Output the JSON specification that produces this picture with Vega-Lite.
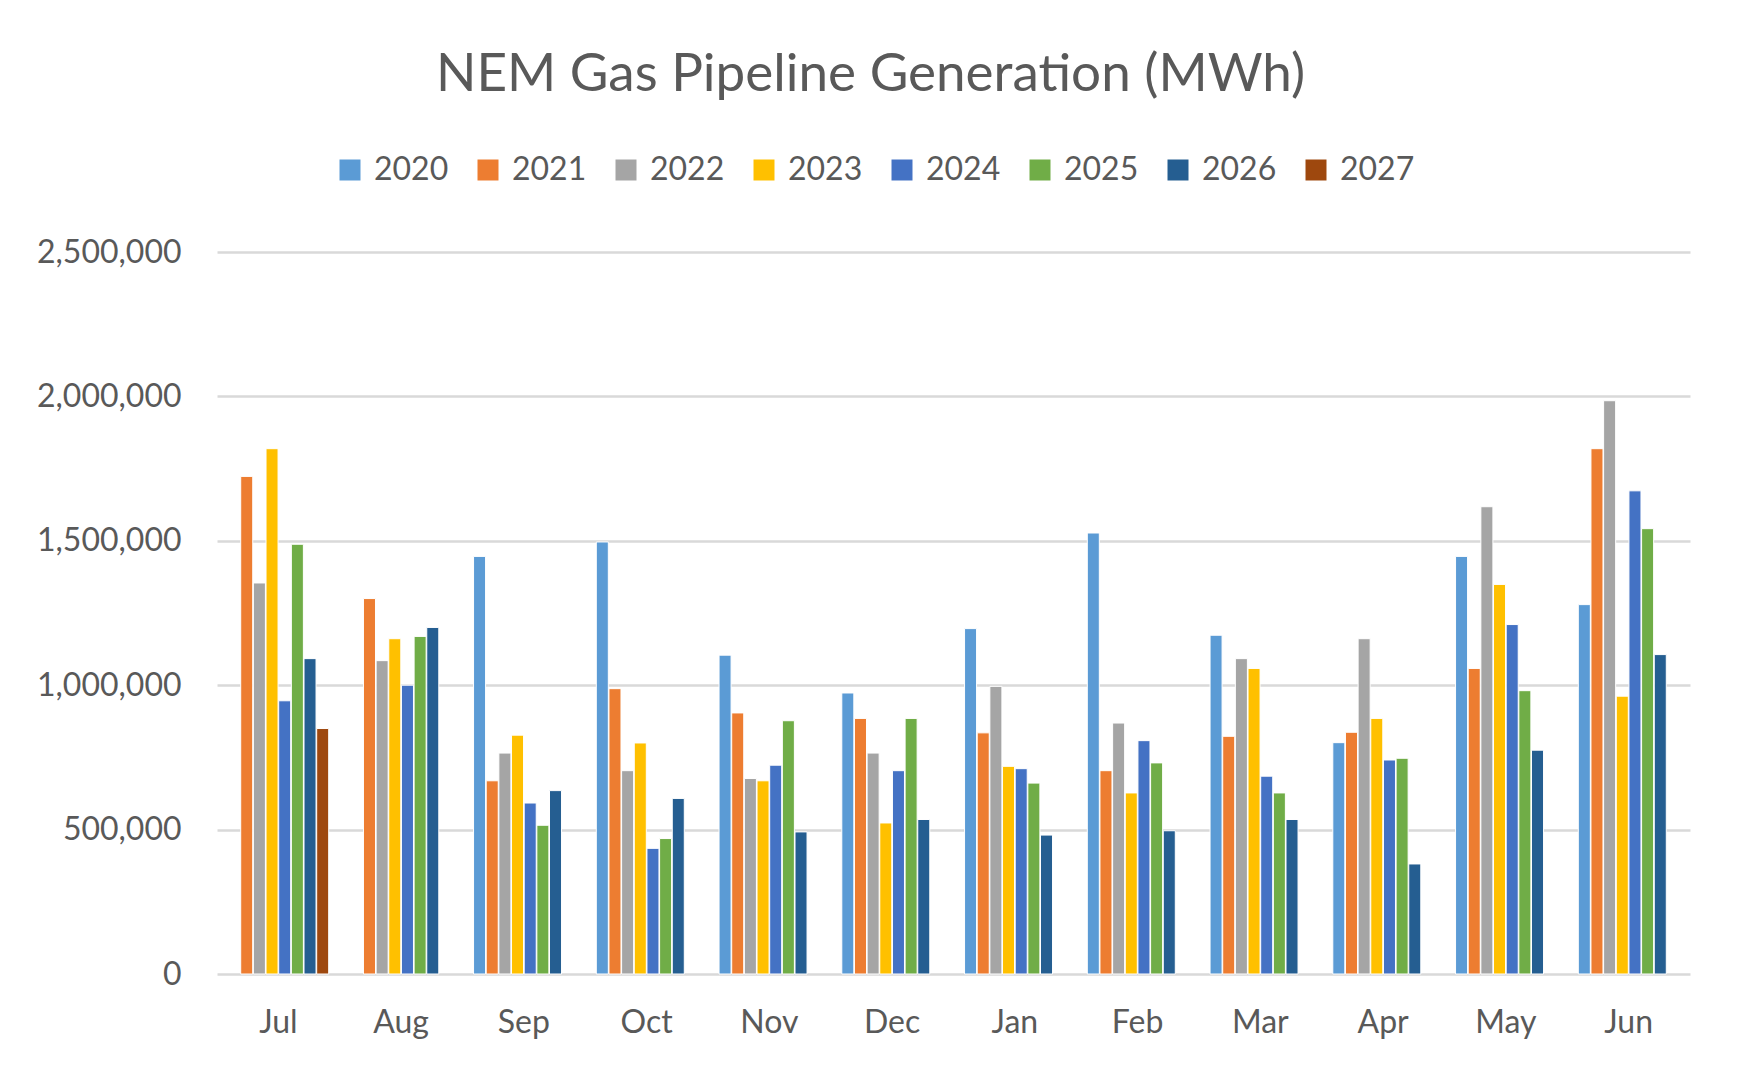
{
  "$schema": "https://vega.github.io/schema/vega-lite/v6.json",
  "autosize": {"type": "none"},
  "padding": {"left": 217, "top": 252, "right": 49, "bottom": 99},
  "width": 1473,
  "height": 722,
  "background": "white",
  "config": {
    "font": "Lato",
    "view": {"stroke": null},
    "axis": {
      "labelFont": "Lato",
      "labelFontSize": 32,
      "labelColor": "#595959",
      "domain": false,
      "ticks": false,
      "title": null
    },
    "legend": {"labelFont": "Lato"}
  },
  "title": {
    "text": "NEM Gas Pipeline Generation (MWh)",
    "font": "Lato",
    "fontSize": 53,
    "fontWeight": "normal",
    "color": "#595959",
    "anchor": "middle",
    "dx": -83,
    "offset": 52
  },
  "data": {
    "values": [
      {"month": "Jul", "year": "2021", "value": 1723000},
      {"month": "Jul", "year": "2022", "value": 1354000},
      {"month": "Jul", "year": "2023", "value": 1819000},
      {"month": "Jul", "year": "2024", "value": 946000},
      {"month": "Jul", "year": "2025", "value": 1488000},
      {"month": "Jul", "year": "2026", "value": 1092000},
      {"month": "Jul", "year": "2027", "value": 850000},
      {"month": "Aug", "year": "2021", "value": 1300000},
      {"month": "Aug", "year": "2022", "value": 1085000},
      {"month": "Aug", "year": "2023", "value": 1161000},
      {"month": "Aug", "year": "2024", "value": 1000000},
      {"month": "Aug", "year": "2025", "value": 1169000},
      {"month": "Aug", "year": "2026", "value": 1200000},
      {"month": "Sep", "year": "2020", "value": 1446000},
      {"month": "Sep", "year": "2021", "value": 669000},
      {"month": "Sep", "year": "2022", "value": 765000},
      {"month": "Sep", "year": "2023", "value": 827000},
      {"month": "Sep", "year": "2024", "value": 592000},
      {"month": "Sep", "year": "2025", "value": 515000},
      {"month": "Sep", "year": "2026", "value": 635000},
      {"month": "Oct", "year": "2020", "value": 1496000},
      {"month": "Oct", "year": "2021", "value": 988000},
      {"month": "Oct", "year": "2022", "value": 704000},
      {"month": "Oct", "year": "2023", "value": 800000},
      {"month": "Oct", "year": "2024", "value": 435000},
      {"month": "Oct", "year": "2025", "value": 469000},
      {"month": "Oct", "year": "2026", "value": 608000},
      {"month": "Nov", "year": "2020", "value": 1104000},
      {"month": "Nov", "year": "2021", "value": 904000},
      {"month": "Nov", "year": "2022", "value": 677000},
      {"month": "Nov", "year": "2023", "value": 669000},
      {"month": "Nov", "year": "2024", "value": 723000},
      {"month": "Nov", "year": "2025", "value": 877000},
      {"month": "Nov", "year": "2026", "value": 492000},
      {"month": "Dec", "year": "2020", "value": 973000},
      {"month": "Dec", "year": "2021", "value": 885000},
      {"month": "Dec", "year": "2022", "value": 765000},
      {"month": "Dec", "year": "2023", "value": 523000},
      {"month": "Dec", "year": "2024", "value": 704000},
      {"month": "Dec", "year": "2025", "value": 885000},
      {"month": "Dec", "year": "2026", "value": 535000},
      {"month": "Jan", "year": "2020", "value": 1196000},
      {"month": "Jan", "year": "2021", "value": 835000},
      {"month": "Jan", "year": "2022", "value": 996000},
      {"month": "Jan", "year": "2023", "value": 719000},
      {"month": "Jan", "year": "2024", "value": 711000},
      {"month": "Jan", "year": "2025", "value": 661000},
      {"month": "Jan", "year": "2026", "value": 481000},
      {"month": "Feb", "year": "2020", "value": 1527000},
      {"month": "Feb", "year": "2021", "value": 704000},
      {"month": "Feb", "year": "2022", "value": 869000},
      {"month": "Feb", "year": "2023", "value": 627000},
      {"month": "Feb", "year": "2024", "value": 808000},
      {"month": "Feb", "year": "2025", "value": 731000},
      {"month": "Feb", "year": "2026", "value": 496000},
      {"month": "Mar", "year": "2020", "value": 1173000},
      {"month": "Mar", "year": "2021", "value": 823000},
      {"month": "Mar", "year": "2022", "value": 1092000},
      {"month": "Mar", "year": "2023", "value": 1058000},
      {"month": "Mar", "year": "2024", "value": 685000},
      {"month": "Mar", "year": "2025", "value": 627000},
      {"month": "Mar", "year": "2026", "value": 535000},
      {"month": "Apr", "year": "2020", "value": 801000},
      {"month": "Apr", "year": "2021", "value": 837000},
      {"month": "Apr", "year": "2022", "value": 1161000},
      {"month": "Apr", "year": "2023", "value": 885000},
      {"month": "Apr", "year": "2024", "value": 741000},
      {"month": "Apr", "year": "2025", "value": 747000},
      {"month": "Apr", "year": "2026", "value": 381000},
      {"month": "May", "year": "2020", "value": 1446000},
      {"month": "May", "year": "2021", "value": 1058000},
      {"month": "May", "year": "2022", "value": 1618000},
      {"month": "May", "year": "2023", "value": 1349000},
      {"month": "May", "year": "2024", "value": 1210000},
      {"month": "May", "year": "2025", "value": 981000},
      {"month": "May", "year": "2026", "value": 775000},
      {"month": "Jun", "year": "2020", "value": 1279000},
      {"month": "Jun", "year": "2021", "value": 1819000},
      {"month": "Jun", "year": "2022", "value": 1985000},
      {"month": "Jun", "year": "2023", "value": 962000},
      {"month": "Jun", "year": "2024", "value": 1673000},
      {"month": "Jun", "year": "2025", "value": 1542000},
      {"month": "Jun", "year": "2026", "value": 1106000}
    ]
  },
  "mark": {"type": "bar", "stroke": "white", "strokeWidth": 1},
  "encoding": {
    "x": {
      "field": "month",
      "type": "nominal",
      "sort": ["Jul", "Aug", "Sep", "Oct", "Nov", "Dec", "Jan", "Feb", "Mar", "Apr", "May", "Jun"],
      "scale": {"paddingInner": 0.18, "paddingOuter": 0.09},
      "axis": {"labelAngle": 0, "labelPadding": 33, "grid": false}
    },
    "xOffset": {
      "field": "year",
      "type": "nominal",
      "scale": {"domain": ["2020", "2021", "2022", "2023", "2024", "2025", "2026", "2027"], "paddingInner": 0.05}
    },
    "y": {
      "field": "value",
      "type": "quantitative",
      "scale": {"domain": [0, 2500000]},
      "axis": {
        "values": [0, 500000, 1000000, 1500000, 2000000, 2500000],
        "format": ",.0f",
        "labelPadding": 36,
        "gridColor": "#d9d9d9",
        "gridWidth": 2.5
      }
    },
    "color": {
      "field": "year",
      "type": "nominal",
      "scale": {
        "domain": ["2020", "2021", "2022", "2023", "2024", "2025", "2026", "2027"],
        "range": ["#5b9bd5", "#ed7d31", "#a5a5a5", "#ffc000", "#4472c4", "#70ad47", "#255e91", "#9e480e"]
      },
      "legend": {
        "title": null,
        "orient": "none",
        "direction": "horizontal",
        "columns": 8,
        "legendX": 117,
        "legendY": -98,
        "symbolType": "square",
        "symbolSize": 441,
        "symbolStrokeWidth": 0,
        "labelFontSize": 32,
        "labelColor": "#595959",
        "labelOffset": 8,
        "columnPadding": 23
      }
    }
  }
}
